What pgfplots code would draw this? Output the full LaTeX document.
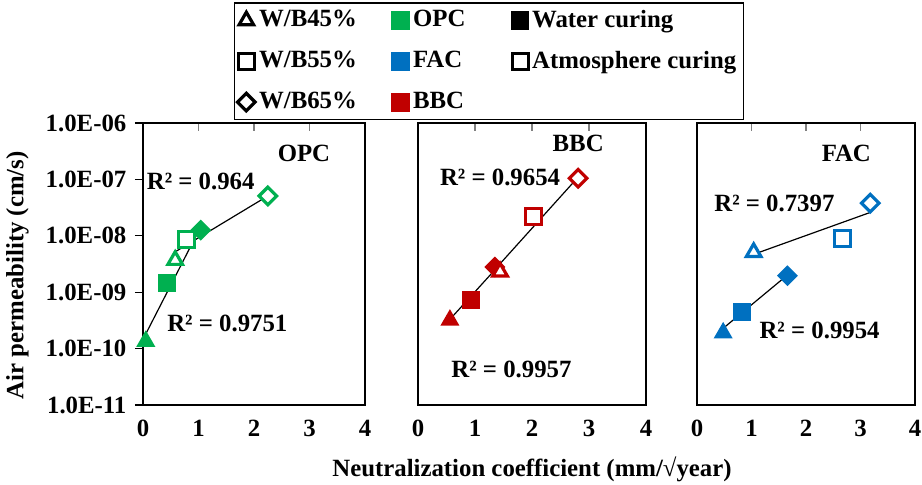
\documentclass[border=0pt]{standalone}
\usepackage{fontspec}
\setmainfont{Liberation Serif}
\usepackage{pgfplots}
\pgfplotsset{compat=1.18}

\definecolor{opc}{HTML}{00B050}
\definecolor{fac}{HTML}{0070C0}
\definecolor{bbc}{HTML}{C00000}

\pgfplotsset{
  panel/.style={
    scale only axis, width=#1, height=141pt,
    xmin=0, xmax=4, ymin=1e-11, ymax=1e-6,
    xtick={0,1,2,3,4},
    xtick pos=right, xticklabel pos=left,
    xtick align=inside,
    x tick style={gray, line width=0.6pt},
    major tick length=4pt,
    xticklabel style={yshift=-3pt},
    /pgf/number format/assume math mode=true,
    axis line style={line width=0.8pt},
    yminorticks=false,
    clip=false,
  },
  wtri/.style={only marks, mark=triangle*, mark size=4.3pt, line width=1.2pt},
  wsq/.style={only marks, mark=square*, mark size=4pt, line width=1.2pt},
  wdia/.style={only marks, mark=square*, mark size=3.1pt, line width=1.2pt, mark options={rotate=45}},
  atri/.style={only marks, mark=triangle*, mark size=4.2pt, line width=1.6pt, mark options={fill=white}},
  asq/.style={only marks, mark=square*, mark size=4pt, line width=1.6pt, mark options={fill=white}},
  adia/.style={only marks, mark=square*, mark size=3.1pt, line width=1.6pt, mark options={rotate=45, fill=white}},
  trend/.style={black, line width=0.6pt, no marks},
}

\begin{document}
\fontsize{12.4}{14}\selectfont\bfseries
\begin{tikzpicture}
% ---------- OPC ----------
\begin{axis}[ymode=log, panel=111pt, at={(71.5pt,39.5pt)},
  ytick={1e-11,1e-10,1e-9,1e-8,1e-7,1e-6},
  yticklabels={1.0E-11,1.0E-10,1.0E-09,1.0E-08,1.0E-07,1.0E-06},
  ytick pos=left, ytick align=outside,
  y tick style={black, line width=0.6pt},
  ylabel={Air permeability (cm/s)},
  ylabel style={at={(ticklabel cs:0.46)}, xshift=0pt},
]
\addplot[wtri, opc] coordinates {(0.05,1.35e-10)};
\addplot[wsq, opc] coordinates {(0.43,1.44e-9)};
\addplot[wdia, opc] coordinates {(1.04,1.26e-8)};
\addplot[atri, opc] coordinates {(0.58,3.7e-9)};
\addplot[asq, opc] coordinates {(0.79,8.5e-9)};
\addplot[adia, opc] coordinates {(2.25,5.1e-8)};
\addplot[trend] coordinates {(0.04,1.74e-10) (1.04,1.45e-8)};
\addplot[trend] coordinates {(0.58,5.2e-9) (2.25,5.1e-8)};
\node at (axis cs:2.9,2.9e-7) {OPC};
\node at (axis cs:1.04,9.1e-8) {R² = 0.964};
\node at (axis cs:1.52,2.8e-10) {R² = 0.9751};
\end{axis}

% ---------- BBC ----------
\begin{axis}[ymode=log, panel=114pt, at={(209pt,39.5pt)},
  ymajorticks=false,
  xlabel={Neutralization coefficient (mm/√year)},
  xlabel style={yshift=-2pt},
  legend columns=3,
  legend cell align=left,
  legend image code/.code={\draw[mark repeat=2,mark phase=2,#1] plot coordinates {(0pt,0pt) (5pt,0pt) (10pt,0pt)};},
  legend style={at={(axis description cs:0.311,1.011)}, anchor=south,
    draw=black, line width=0.7pt, row sep=6pt, inner sep=1.5pt},
]
\addlegendimage{atri, black}
\addlegendentry{\makebox[64pt][l]{W/B45\%}}
\addlegendimage{only marks, mark=square*, mark size=4.5pt, opc, line width=0pt}
\addlegendentry{\makebox[47.5pt][l]{OPC}}
\addlegendimage{wsq, black}
\addlegendentry{Water curing}
\addlegendimage{asq, black}
\addlegendentry{\makebox[64pt][l]{W/B55\%}}
\addlegendimage{only marks, mark=square*, mark size=4.5pt, fac, line width=0pt}
\addlegendentry{\makebox[47.5pt][l]{FAC}}
\addlegendimage{asq, black}
\addlegendentry{Atmosphere curing}
\addlegendimage{adia, black}
\addlegendentry{\makebox[64pt][l]{W/B65\%}}
\addlegendimage{only marks, mark=square*, mark size=4.5pt, bbc, line width=0pt}
\addlegendentry{\makebox[47.5pt][l]{BBC}}

\addplot[wtri, bbc, forget plot] coordinates {(0.56,3.2e-10)};
\addplot[wsq, bbc, forget plot] coordinates {(0.93,7.2e-10)};
\addplot[wdia, bbc, forget plot] coordinates {(1.35,2.8e-9)};
\addplot[atri, bbc, forget plot] coordinates {(1.44,2.3e-9)};
\addplot[asq, bbc, forget plot] coordinates {(2.02,2.2e-8)};
\addplot[adia, bbc, forget plot] coordinates {(2.81,1.05e-7)};
\addplot[trend, forget plot] coordinates {(0.56,3.3e-10) (1.35,2.5e-9)};
\addplot[trend, forget plot] coordinates {(1.44,3.2e-9) (2.81,1.1e-7)};
\node at (axis cs:2.81,4.4e-7) {BBC};
\node at (axis cs:1.44,1.1e-7) {R² = 0.9654};
\node at (axis cs:1.64,4.3e-11) {R² = 0.9957};
\end{axis}

% ---------- FAC ----------
\begin{axis}[ymode=log, panel=109pt, at={(348.5pt,39.5pt)},
  ymajorticks=false,
]
\addplot[wtri, fac] coordinates {(0.48,1.9e-10)};
\addplot[wsq, fac] coordinates {(0.83,4.5e-10)};
\addplot[wdia, fac] coordinates {(1.66,1.96e-9)};
\addplot[atri, fac] coordinates {(1.04,5.1e-9)};
\addplot[asq, fac] coordinates {(2.67,9.1e-9)};
\addplot[adia, fac] coordinates {(3.18,3.8e-8)};
\addplot[trend] coordinates {(0.48,2.29e-10) (1.66,2.02e-9)};
\addplot[trend] coordinates {(1.04,4.7e-9) (3.18,2.6e-8)};
\node at (axis cs:2.74,2.9e-7) {FAC};
\node at (axis cs:1.42,3.8e-8) {R² = 0.7397};
\node at (axis cs:2.25,2.1e-10) {R² = 0.9954};
\end{axis}

\pgfresetboundingbox
\path (0,0) rectangle (461pt,242pt);
\end{tikzpicture}
\end{document}
